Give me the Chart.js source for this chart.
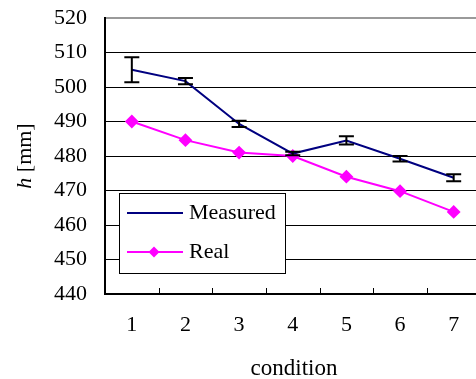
<!DOCTYPE html>
<html>
<head>
<meta charset="utf-8">
<script src="https://cdn.jsdelivr.net/npm/chart.js@4"></script>
<style>
  html, body { margin: 0; padding: 0; background: #fff; overflow: hidden; }
  #wrap { width: 488px; height: 379px; position: relative; }
</style>
</head>
<body>
<div id="wrap"><canvas id="chart" width="488" height="379"></canvas></div>
<script>
// Data
const conditions = ['1', '2', '3', '4', '5', '6', '7'];
const measured = [505, 501.7, 489.3, 480.7, 484.5, 479.2, 473.7];
const measuredErr = [3.6, 0.9, 0.9, 0.5, 1.2, 0.8, 1.0];
const real = [490, 484.6, 481, 480, 474, 469.8, 463.8];
const yTicks = [440, 450, 460, 470, 480, 490, 500, 510, 520];

const FONT = '"Liberation Serif", "Times New Roman", serif';
const NAVY = '#000080';
const MAGENTA = '#FF00FF';

// Error bars for the measured series
const errorBars = {
    id: 'errorBars',
    afterDatasetsDraw(chart) {
        const ctx = chart.ctx;
        const x = chart.scales.x;
        const y = chart.scales.y;
        ctx.save();
        ctx.strokeStyle = '#000';
        ctx.lineWidth = 2;
        measured.forEach((v, i) => {
            const px = x.getPixelForValue(i);
            const top = y.getPixelForValue(v + measuredErr[i]);
            const bot = y.getPixelForValue(v - measuredErr[i]);
            ctx.beginPath();
            ctx.moveTo(px, top); ctx.lineTo(px, bot);
            ctx.moveTo(px - 7.5, top); ctx.lineTo(px + 7.5, top);
            ctx.moveTo(px - 7.5, bot); ctx.lineTo(px + 7.5, bot);
            ctx.stroke();
        });
        ctx.restore();
    }
};

// Inward tick marks between categories, titles and the boxed legend
const decorations = {
    id: 'decorations',
    afterDraw(chart) {
        const ctx = chart.ctx;
        const x = chart.scales.x;
        const area = chart.chartArea;
        ctx.save();

        // x tick marks
        ctx.strokeStyle = '#000';
        ctx.lineWidth = 1;
        for (let i = 0; i < conditions.length - 1; i++) {
            const bx = Math.round((x.getPixelForValue(i) + x.getPixelForValue(i + 1)) / 2) + 0.5;
            ctx.beginPath();
            ctx.moveTo(bx, area.bottom);
            ctx.lineTo(bx, area.bottom - 6);
            ctx.stroke();
        }

        // axis titles
        ctx.fillStyle = '#000';
        ctx.textBaseline = 'middle';
        ctx.textAlign = 'center';
        ctx.font = '23px ' + FONT;
        ctx.fillText('condition', 294, 369);

        ctx.save();
        ctx.translate(25, (area.top + area.bottom) / 2);
        ctx.rotate(-Math.PI / 2);
        ctx.font = 'italic 22px ' + FONT;
        const hW = ctx.measureText('h ').width;
        ctx.font = '22px ' + FONT;
        const restW = ctx.measureText('[mm]').width;
        const start = -(hW + restW) / 2;
        ctx.textAlign = 'left';
        ctx.font = 'italic 22px ' + FONT;
        ctx.fillText('h ', start, 0);
        ctx.font = '22px ' + FONT;
        ctx.fillText('[mm]', start + hW, 0);
        ctx.restore();

        // legend
        const lx = 119, ly = 193, lw = 166, lh = 80;
        ctx.fillStyle = '#fff';
        ctx.fillRect(lx, ly, lw, lh);
        ctx.strokeStyle = '#000';
        ctx.lineWidth = 1;
        ctx.strokeRect(lx + 0.5, ly + 0.5, lw, lh);

        const rows = [
            { label: 'Measured', color: NAVY, y: 213, marker: false },
            { label: 'Real', color: MAGENTA, y: 252, marker: true }
        ];
        rows.forEach(r => {
            ctx.strokeStyle = r.color;
            ctx.lineWidth = 2;
            ctx.beginPath();
            ctx.moveTo(127, r.y);
            ctx.lineTo(183, r.y);
            ctx.stroke();
            if (r.marker) {
                ctx.fillStyle = r.color;
                ctx.beginPath();
                ctx.moveTo(154, r.y - 5.5);
                ctx.lineTo(159.5, r.y);
                ctx.lineTo(154, r.y + 5.5);
                ctx.lineTo(148.5, r.y);
                ctx.closePath();
                ctx.fill();
            }
            ctx.fillStyle = '#000';
            ctx.textAlign = 'left';
            ctx.font = '22px ' + FONT;
            ctx.fillText(r.label, 189, r.y);
        });

        ctx.restore();
    }
};

const chart = new Chart(document.getElementById('chart'), {
    type: 'line',
    data: {
        labels: conditions,
        datasets: [
            {
                label: 'Measured',
                data: measured,
                borderColor: NAVY,
                backgroundColor: NAVY,
                borderWidth: 2,
                pointRadius: 0,
                tension: 0,
                fill: false
            },
            {
                label: 'Real',
                data: real,
                borderColor: MAGENTA,
                backgroundColor: MAGENTA,
                borderWidth: 2,
                pointStyle: 'rectRot',
                pointRadius: 5.5,
                tension: 0,
                fill: false
            }
        ]
    },
    options: {
        responsive: false,
        animation: false,
        devicePixelRatio: 1,
        layout: { padding: { top: 18, left: 0, right: 0, bottom: 0 } },
        plugins: {
            legend: { display: false },
            tooltip: { enabled: false }
        },
        scales: {
            x: {
                offset: true,
                grid: { display: false, drawTicks: false },
                border: { color: '#000', width: 2 },
                ticks: { color: '#000', font: { family: FONT, size: 22 }, padding: 18, maxRotation: 0 },
                afterFit: s => { s.height = 85; s.paddingLeft = 0; s.paddingRight = 0; }
            },
            y: {
                min: 440,
                max: 520,
                afterBuildTicks: s => { s.ticks = yTicks.map(v => ({ value: v })); },
                grid: {
                    drawTicks: false,
                    color: c => (c.tick && c.tick.value === 520 ? '#9a9a9a' : '#000'),
                    lineWidth: c => (c.tick && c.tick.value === 520 ? 2 : 1)
                },
                border: { color: '#000', width: 2 },
                ticks: { color: '#000', font: { family: FONT, size: 22 }, padding: 18, autoSkip: false },
                afterFit: s => { s.width = 105; s.paddingTop = 0; s.paddingBottom = 0; }
            }
        }
    },
    plugins: [errorBars, decorations]
});
</script>
</body>
</html>
